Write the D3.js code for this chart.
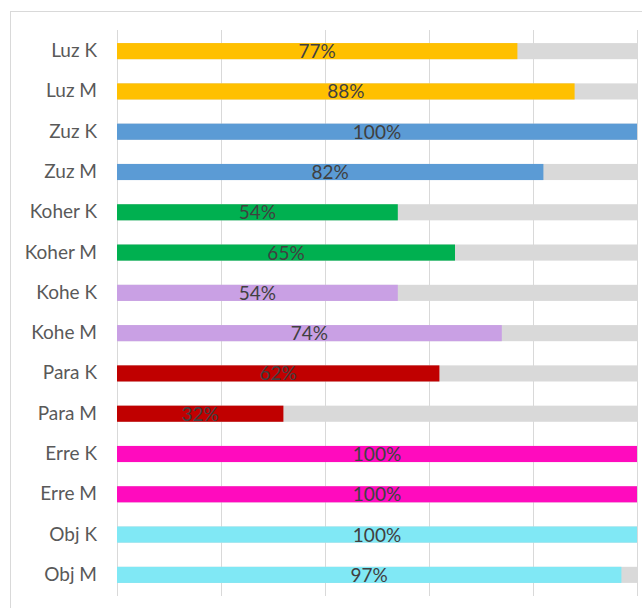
<!DOCTYPE html>
<html>
<head>
<meta charset="utf-8">
<script src="https://cdn.jsdelivr.net/npm/d3@7"></script>
<style>
  html, body { margin: 0; padding: 0; background: #fff; }
  svg { display: block; font-family: Lato, "Open Sans", sans-serif; }
</style>
</head>
<body>
<div id="chart"></div>
<script>
// categories top to bottom and their values (percent)
const categories = ["Luz K", "Luz M", "Zuz K", "Zuz M", "Koher K", "Koher M", "Kohe K",
  "Kohe M", "Para K", "Para M", "Erre K", "Erre M", "Obj K", "Obj M"];
const values = [77, 88, 100, 82, 54, 65, 54, 74, 62, 32, 100, 100, 100, 97];
const barColors = ["#FFC000", "#FFC000", "#5B9BD5", "#5B9BD5", "#00B050", "#00B050",
  "#C9A0E4", "#C9A0E4", "#C00000", "#C00000", "#FF0BBE", "#FF0BBE", "#80E8F5", "#80E8F5"];
const xTicks = [0, 20, 40, 60, 80, 100];

const width = 642, height = 608;
const margin = {top: 31, right: 5, bottom: 13, left: 117};

const data = categories.map((c, i) => ({cat: c, value: values[i], color: barColors[i]}));

const svg = d3.select("#chart")
  .append("svg")
  .attr("width", width)
  .attr("height", height);

// chart frame (runs off the right and bottom edges)
svg.append("rect")
  .attr("x", 10.5)
  .attr("y", 11.5)
  .attr("width", width + 20)
  .attr("height", height + 20)
  .attr("fill", "none")
  .attr("stroke", "#d9d9d9");

const x = d3.scaleLinear()
  .domain([0, 100])
  .range([margin.left, 637]);

const y = d3.scaleBand()
  .domain(categories)
  .range([margin.top, height - margin.bottom])
  .paddingInner(0.6)
  .paddingOuter(0.3);

// vertical gridlines
svg.append("g")
  .selectAll("line")
  .data(xTicks)
  .join("line")
    .attr("x1", d => Math.round(x(d)) + 0.5)
    .attr("x2", d => Math.round(x(d)) + 0.5)
    .attr("y1", 30)
    .attr("y2", 596)
    .attr("stroke", "#d9d9d9")
    .attr("stroke-width", 1);

// grey background bars at 100%
svg.append("g")
  .selectAll("rect")
  .data(data)
  .join("rect")
    .attr("x", x(0))
    .attr("y", d => y(d.cat))
    .attr("width", x(100) - x(0))
    .attr("height", y.bandwidth())
    .attr("fill", "#d9d9d9");

// value bars
svg.append("g")
  .selectAll("rect")
  .data(data)
  .join("rect")
    .attr("x", x(0))
    .attr("y", d => y(d.cat))
    .attr("width", d => x(d.value) - x(0))
    .attr("height", y.bandwidth())
    .attr("fill", d => d.color);

// value labels centred on the coloured bar
svg.append("g")
  .selectAll("text")
  .data(data)
  .join("text")
    .attr("x", d => (x(0) + x(d.value)) / 2)
    .attr("y", d => y(d.cat) + y.bandwidth() / 2 + 7)
    .attr("text-anchor", "middle")
    .attr("font-size", 19)
    .attr("fill", "#404040")
    .text(d => d.value + "%");

// category labels
svg.append("g")
  .selectAll("text")
  .data(data)
  .join("text")
    .attr("x", 97)
    .attr("y", d => y(d.cat) + y.bandwidth() / 2 + 6)
    .attr("text-anchor", "end")
    .attr("font-size", 19)
    .attr("fill", "#595959")
    .text(d => d.cat);
</script>
</body>
</html>
